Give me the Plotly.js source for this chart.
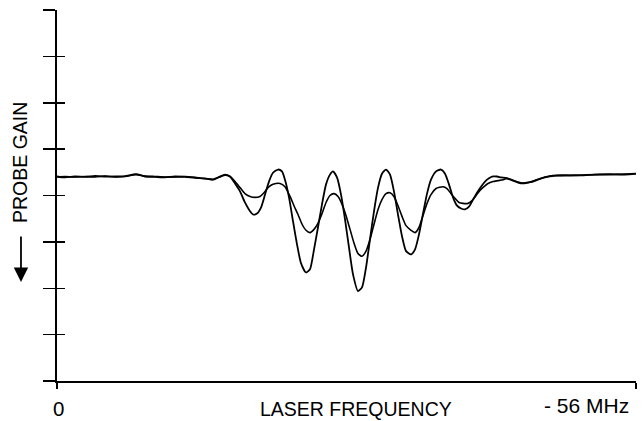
<!DOCTYPE html>
<html>
<head>
<meta charset="utf-8">
<script src="https://cdn.plot.ly/plotly-3.0.1.min.js"></script>
<style>
  html, body { margin: 0; padding: 0; background: #fff; }
  #chart { width: 642px; height: 421px; }
</style>
</head>
<body>
<div id="chart"></div>
<script>
// Laser frequency (MHz, 0 .. -56 MHz span) and probe gain (axis divisions)
var strongFreq = [0.00,0.77,1.74,2.71,3.68,4.64,5.61,6.58,7.64,8.51,9.48,10.45,11.41,12.38,13.35,14.31,15.09,15.77,16.25,16.73,17.22,17.70,18.18,18.67,18.96,19.34,19.73,20.12,20.50,20.89,21.38,21.76,22.05,22.44,22.83,23.21,23.60,24.08,24.47,24.86,25.24,25.63,26.02,26.40,26.69,27.08,27.47,27.86,28.24,28.63,29.11,29.50,29.89,30.27,30.66,31.05,31.43,31.82,32.21,32.59,32.98,33.37,33.76,34.24,34.63,35.01,35.40,35.79,36.17,36.66,37.14,37.53,37.91,38.30,38.69,39.08,39.46,39.85,40.24,40.62,41.01,41.40,41.78,42.17,42.56,42.94,43.52,44.10,44.59,45.07,45.56,46.04,46.52,47.20,47.97,49.13,50.59,52.04,53.49,54.94,56.00];
var strongGain = [4.41,4.39,4.41,4.40,4.42,4.41,4.41,4.42,4.46,4.41,4.40,4.39,4.41,4.40,4.38,4.37,4.34,4.41,4.45,4.41,4.26,4.09,3.85,3.66,3.59,3.61,3.74,4.02,4.30,4.49,4.56,4.52,4.34,3.96,3.44,2.95,2.54,2.34,2.41,2.84,3.31,3.81,4.24,4.45,4.52,4.39,4.02,3.48,2.88,2.30,1.94,2.02,2.45,3.05,3.66,4.17,4.47,4.56,4.45,4.09,3.59,3.12,2.80,2.73,2.84,3.16,3.61,4.04,4.34,4.52,4.56,4.47,4.24,3.96,3.78,3.72,3.70,3.76,3.91,4.06,4.19,4.30,4.37,4.41,4.41,4.39,4.37,4.32,4.28,4.26,4.28,4.30,4.34,4.39,4.43,4.43,4.44,4.45,4.45,4.46,4.47];

var weakFreq = [0.00,0.77,1.74,2.71,3.68,4.64,5.61,6.58,7.64,8.51,9.48,10.45,11.41,12.38,13.35,14.31,15.09,15.77,16.25,16.73,17.22,17.70,18.18,18.67,19.15,19.63,20.02,20.41,20.89,21.57,22.05,22.54,22.92,23.31,23.70,24.08,24.47,24.86,25.24,25.63,26.02,26.40,26.79,27.18,27.57,27.95,28.34,28.73,29.11,29.50,29.89,30.27,30.66,31.05,31.43,31.82,32.21,32.59,32.98,33.37,33.76,34.24,34.63,35.01,35.40,35.79,36.17,36.66,37.33,37.72,38.11,38.49,38.88,39.27,39.75,40.14,40.53,40.91,41.30,41.69,42.17,42.65,43.14,43.52,44.10,44.59,45.07,45.56,46.04,46.52,47.20,47.97,49.13,50.59,52.04,53.49,54.94,56.00];
var weakGain = [4.40,4.41,4.40,4.41,4.40,4.42,4.40,4.41,4.45,4.42,4.41,4.40,4.40,4.41,4.39,4.36,4.35,4.40,4.44,4.41,4.30,4.17,4.04,3.98,3.96,3.98,4.06,4.17,4.24,4.26,4.19,3.98,3.78,3.59,3.38,3.25,3.20,3.27,3.40,3.61,3.85,4.00,4.04,3.98,3.81,3.57,3.27,2.97,2.75,2.69,2.80,3.05,3.38,3.70,3.91,4.04,4.06,3.98,3.78,3.55,3.35,3.25,3.20,3.31,3.57,3.83,4.02,4.15,4.19,4.15,4.04,3.94,3.85,3.83,3.83,3.89,4.00,4.11,4.19,4.26,4.30,4.32,4.34,4.37,4.33,4.29,4.27,4.28,4.31,4.35,4.40,4.42,4.44,4.43,4.45,4.46,4.45,4.47];

var yTickVals = [0,1,2,3,4,5,6,7,8];
var xTickVals = [0,56];
var xLabelLeft = "0";
var xLabelRight = "- 56 MHz";
var xTitle = "LASER FREQUENCY";
var yTitle = "PROBE GAIN";

var FONT = "Liberation Sans, Arial, Helvetica, sans-serif";

var traces = [
  {x: strongFreq, y: strongGain, type: "scatter", mode: "lines",
   line: {color: "#000", width: 1.8, shape: "spline", smoothing: 0.6},
   hoverinfo: "skip", showlegend: false},
  {x: weakFreq, y: weakGain, type: "scatter", mode: "lines",
   line: {color: "#000", width: 1.6, shape: "spline", smoothing: 0.6},
   hoverinfo: "skip", showlegend: false},
  {x: [], y: [], xaxis: "x2", yaxis: "y2", type: "scatter", mode: "lines", showlegend: false}
];

var layout = {
  width: 642, height: 421,
  margin: {l: 57, r: 6, t: 10, b: 40, pad: 0},
  paper_bgcolor: "#fff", plot_bgcolor: "#fff",
  showlegend: false,
  font: {family: FONT, color: "#000", size: 20},
  xaxis: {
    range: [0, 56], showgrid: false, zeroline: false,
    showline: true, linecolor: "#000", linewidth: 1.8,
    tickmode: "array", tickvals: xTickVals, ticks: "outside", ticklen: 6,
    tickwidth: 1.8, tickcolor: "#000", showticklabels: false
  },
  xaxis2: {
    overlaying: "x", range: [0, 56], showgrid: false, zeroline: false,
    showline: false, side: "bottom", anchor: "y",
    tickmode: "array", tickvals: [56], ticks: "inside", ticklen: 8,
    tickwidth: 1.8, tickcolor: "#000", showticklabels: false
  },
  yaxis: {
    range: [0, 8], showgrid: false, zeroline: false,
    showline: true, linecolor: "#000", linewidth: 1.8,
    tickmode: "array", tickvals: yTickVals, ticks: "outside", ticklen: 12,
    tickwidth: 1.5, tickcolor: "#000", showticklabels: false
  },
  yaxis2: {
    overlaying: "y", range: [0, 8], showgrid: false, zeroline: false,
    showline: false, side: "left", anchor: "x",
    tickmode: "array", tickvals: yTickVals, ticks: "inside", ticklen: 8,
    tickwidth: 1.5, tickcolor: "#000", showticklabels: false
  },
  annotations: [
    {text: xLabelLeft, xref: "x", yref: "paper", x: 0.1, y: -0.073,
     xanchor: "center", yanchor: "middle", showarrow: false, font: {size: 20.5}},
    {text: xTitle, xref: "x", yref: "paper", x: 28.9, y: -0.075,
     xanchor: "center", yanchor: "middle", showarrow: false, font: {size: 19.5}},
    {text: xLabelRight, xref: "x", yref: "paper", x: 55.5, y: -0.066,
     xanchor: "right", yanchor: "middle", showarrow: false, font: {size: 21}},
    {text: yTitle, xref: "paper", yref: "paper", x: -0.064, y: 0.59,
     xanchor: "center", yanchor: "middle", textangle: -90, showarrow: false,
     font: {size: 19.5}},
    {text: "", xref: "paper", yref: "paper", x: -0.0622, y: 0.267,
     ax: 0, ay: -47, showarrow: true, arrowhead: 2, arrowsize: 1.6,
     arrowwidth: 1.8, arrowcolor: "#000", standoff: 0, startstandoff: 0}
  ]
};

Plotly.newPlot("chart", traces, layout, {staticPlot: true, displayModeBar: false});
</script>
</body>
</html>
